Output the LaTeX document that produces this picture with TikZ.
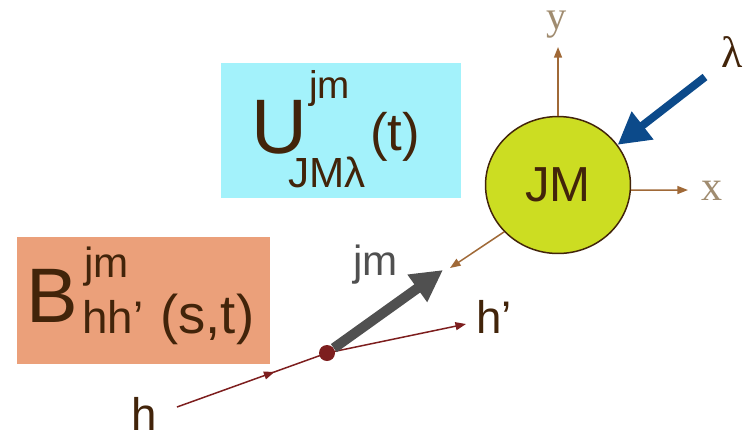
\documentclass[tikz,border=0pt]{standalone}
\usepackage{fontspec}
\setmainfont{Liberation Sans}
\newfontfamily\serifft{Liberation Serif}
\usetikzlibrary{arrows.meta,shapes.geometric,decorations.markings}
\definecolor{inkbrown}{RGB}{66,36,10}
\definecolor{boxcyan}{RGB}{163,242,251}
\definecolor{boxsalmon}{RGB}{235,160,122}
\definecolor{ballgreen}{RGB}{204,221,34}
\definecolor{axisbrown}{RGB}{160,105,55}
\definecolor{axislabel}{RGB}{160,140,112}
\definecolor{lamblue}{RGB}{12,74,138}
\definecolor{jmgrey}{RGB}{80,80,80}
\definecolor{legred}{RGB}{125,30,30}
\newcommand{\Fsz}[1]{\fontsize{#1}{#1}\selectfont}

\begin{document}
\begin{tikzpicture}[x=0.02cm, y=-0.02cm, inner sep=0pt, text=inkbrown,
    txt/.style={anchor=base west},
    axis/.style={axisbrown, line width=0.85pt, -{Triangle[length=6pt,width=4.5pt]}},
    leg/.style={legred, line width=0.85pt}]
  \useasboundingbox (0,0) rectangle (751,437);

  % Amplitude boxes
  \fill[boxcyan] (221,63) rectangle (461,198);
  \fill[boxsalmon] (17,237) rectangle (270,364);

  % U^{jm}_{JM lambda}(t)
  \node[txt, font=\Fsz{44}] (U) at (251,153) {U};
  \node[txt, font=\Fsz{22}] (Usup) at (309,98) {jm};
  \node[txt, font=\Fsz{24}] (Usub) at (288,187) {JMλ};
  \node[txt, font=\Fsz{30}] (Uarg) at (370,150) {(t)};

  % B^{jm}_{hh'}(s,t)
  \node[txt, font=\Fsz{44}] (B) at (26,322) {B};
  \node[txt, font=\Fsz{24}] (Bsup) at (84,277) {jm};
  \node[txt, font=\Fsz{26}] (Bsub) at (82,333) {hh’};
  \node[txt, font=\Fsz{31}] (Barg) at (160,333) {(s,t)};

  % Resonance and its frame
  \node[ellipse, draw=inkbrown, line width=0.85pt, fill=ballgreen,
        minimum width=2.9cm, minimum height=2.74cm, font=\Fsz{28}]
        (res) at (558,185) {JM};
  \coordinate (ytip) at (558,47);
  \coordinate (xtip) at (688,190);
  \draw[axis] (res.north) -- (ytip);
  \draw[axis] (res.-4) -- (xtip);
  \node[txt, font=\serifft\Fsz{23}, text=axislabel] (ylab) at (546,29) {y};
  \node[txt, font=\serifft\Fsz{24}, text=axislabel] (xlab) at (701,200) {x};

  % Helicity of the resonance
  \coordinate (lamtail) at (705,77);
  \draw[lamblue, line width=4.5pt, -{Triangle[length=18pt,width=19pt]}]
    (lamtail) -- (res.34);
  \node[txt, font=\serifft\Fsz{25}] (lamlab) at (721,67) {λ};

  % Decay direction
  \coordinate (jmtip) at (450,268);
  \draw[axis] (res.221) -- (jmtip);

  % Hadron vertex
  \node[circle, fill=legred, minimum size=0.32cm] (vtx) at (327,353) {};
  \coordinate (hin) at (177,407);
  \coordinate (hout) at (466,324);
  \coordinate (spin) at (443,270);
  \draw[leg, postaction={decorate, decoration={markings,
      mark=at position 0.65 with {\arrow{Triangle[length=6pt,width=4.5pt]}}}}]
    (hin) -- (vtx.center);
  \draw[leg, -{Triangle[length=6pt,width=4.5pt]}] (vtx.center) -- (hout);
  \draw[jmgrey, line width=5.7pt, -{Triangle[length=18pt,width=18pt]}]
    (vtx) -- (spin);
  \node[txt, font=\Fsz{24}, text=jmgrey] (jmlab) at (353,275) {jm};
  \node[txt, font=\Fsz{26}] (hlab) at (131,430) {h};
  \node[txt, font=\Fsz{26}] (hplab) at (476,333) {h’};
\end{tikzpicture}
\end{document}
